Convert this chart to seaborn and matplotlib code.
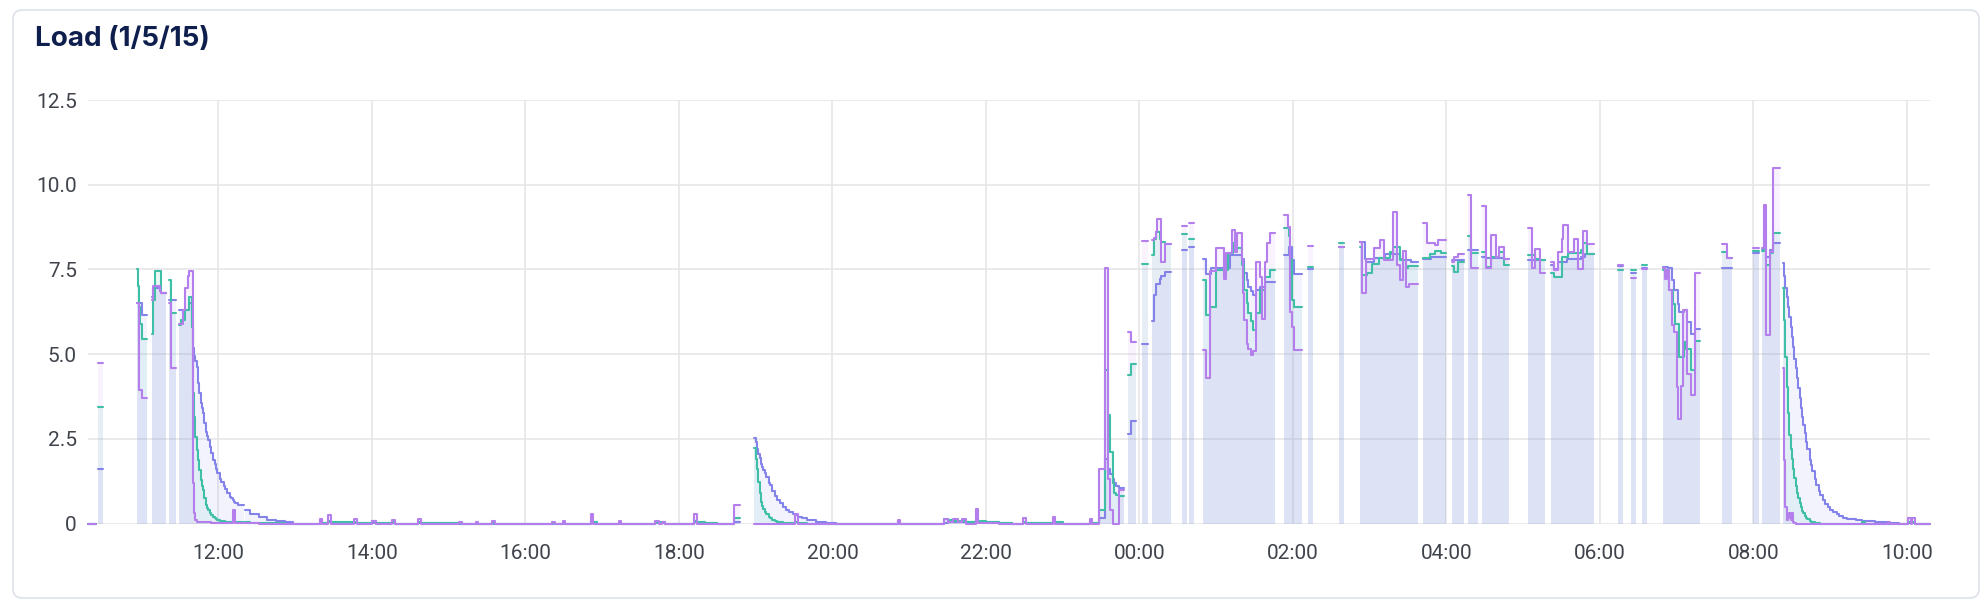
import numpy as np
import pandas as pd
import matplotlib
matplotlib.use("Agg")
import matplotlib.pyplot as plt
import matplotlib.dates as mdates
from matplotlib.patches import FancyBboxPatch
from matplotlib.transforms import IdentityTransform
import seaborn as sns

nan = np.nan

# sample times (value holds until the next time, nan = no data)
times = [
    "10:18", "10:24", "10:26", "10:30", "10:56", "10:57", "10:58", "10:59", "11:00", "11:04",
    "11:08", "11:09", "11:10", "11:14", "11:15", "11:19", "11:21", "11:23", "11:27",
    "11:29", "11:31", "11:32", "11:34", "11:36", "11:37", "11:39", "11:40", "11:41", "11:42",
    "11:43", "11:44", "11:45", "11:46", "11:47", "11:48", "11:49", "11:50", "11:51", "11:52",
    "11:53", "11:54", "11:56", "11:57", "11:58", "11:59", "12:01", "12:02", "12:04", "12:05",
    "12:07", "12:09", "12:10", "12:11", "12:12", "12:13", "12:15", "12:20",
    "12:21", "12:25", "12:32", "12:38", "12:45", "12:52", "12:58", "13:19", "13:21", "13:26",
    "13:28", "13:46", "13:48", "14:00", "14:03", "14:16", "14:18", "14:36", "14:38", "15:08",
    "15:10", "15:21", "15:23", "15:34", "15:36", "16:21", "16:23", "16:29", "16:31", "16:51",
    "16:53", "16:56", "17:13", "17:15", "17:41", "17:44", "17:47", "17:49", "18:12", "18:14",
    "18:20", "18:30", "18:43", "18:48",
    "18:59", "19:00", "19:01", "19:02", "19:03", "19:04", "19:05", "19:06", "19:07", "19:08",
    "19:10", "19:11", "19:13", "19:15", "19:17", "19:19", "19:21", "19:24", "19:26", "19:29",
    "19:31", "19:33", "19:36", "19:40", "19:47", "19:55", "20:03",
    "20:51", "20:53", "21:27", "21:30", "21:34", "21:38", "21:41", "21:44", "21:52", "21:54",
    "22:00", "22:10", "22:20", "22:29", "22:31", "22:52", "22:54", "23:00", "23:21", "23:23",
    "23:28", "23:33", "23:35", "23:37", "23:39", "23:40", "23:42", "23:44", "23:48",
    "23:51", "23:53", "23:57", "00:02", "00:07", "00:10", "00:11", "00:13", "00:14", "00:16",
    "00:17", "00:20", "00:25", "00:33", "00:37", "00:39", "00:43", "00:50", "00:52", "00:55",
    "00:56", "01:00", "01:06", "01:08", "01:09", "01:11", "01:12", "01:13", "01:15", "01:16",
    "01:20", "01:21", "01:22", "01:24", "01:25", "01:27", "01:29", "01:31", "01:34", "01:36",
    "01:38", "01:40", "01:42", "01:46",
    "01:53", "01:56", "01:57", "01:58", "01:59", "02:01", "02:07", "02:12", "02:16", "02:36",
    "02:40", "02:52", "02:54", "02:56", "02:57", "02:58", "03:02", "03:03", "03:07", "03:08",
    "03:11", "03:12", "03:16", "03:18", "03:21", "03:24", "03:26", "03:28", "03:30", "03:31",
    "03:32", "03:38", "03:42", "03:45", "03:47", "03:48", "03:51", "03:53", "03:56", "04:00",
    "04:04", "04:06", "04:09", "04:14", "04:17", "04:19", "04:25", "04:28", "04:31", "04:35",
    "04:39", "04:41", "04:45", "04:49", "05:04", "05:07", "05:09", "05:13", "05:17", "05:22",
    "05:24", "05:27", "05:30", "05:31", "05:34", "05:35", "05:40", "05:43", "05:45", "05:47",
    "05:48", "05:50", "05:55", "06:14", "06:18", "06:24", "06:28", "06:33", "06:37",
    "06:49", "06:51", "06:52", "06:53", "06:54", "06:56", "06:57", "06:58", "06:59", "07:00",
    "07:01", "07:02", "07:03", "07:05", "07:06", "07:07", "07:08", "07:11", "07:14", "07:18",
    "07:35", "07:39", "07:43", "08:00", "08:04", "08:07", "08:08", "08:10", "08:13", "08:15",
    "08:21",
    "08:23", "08:24", "08:25", "08:26", "08:27", "08:28", "08:29", "08:30", "08:31", "08:32",
    "08:33", "08:34", "08:35", "08:36", "08:37", "08:38", "08:39", "08:40", "08:41", "08:42",
    "08:44", "08:45", "08:46", "08:48", "08:49", "08:51", "08:52", "08:54", "08:56", "08:58",
    "09:00", "09:02", "09:05", "09:07", "09:10", "09:13", "09:20", "09:25", "09:27", "09:35",
    "09:45", "09:47", "09:54", "10:01", "10:03", "10:04", "10:06", "10:18",
]

load_1 = [
    0, nan, 4.75, nan, 6.5, 6.5, 3.95, 3.95, 3.7, nan,
    6.6, 7.0, 7.0, 6.85, 6.8, nan, 6.5, 4.6, nan,
    5.9, 5.9, 6.3, 6.95, 7.3, 7.45, 7.45, 1.2, 0.3, 0.1,
    0.05, 0.05, 0.05, 0.05, 0.05, 0.04, 0.04, 0.03, 0.03, 0.03,
    0.03, 0.02, 0.02, 0.02, 0.02, 0.02, 0.02, 0.02, 0.02, 0.02,
    0.02, 0.02, 0.02, 0.39, 0.39, 0.02, 0.02, nan,
    0.02, 0.02, 0, 0, 0, 0, 0, 0.12, 0, 0.24,
    0, 0.12, 0, 0.08, 0, 0.1, 0, 0.12, 0, 0.05,
    0, 0.05, 0, 0.06, 0, 0.05, 0, 0.07, 0, 0.29,
    0, 0, 0.06, 0, 0.07, 0, 0.05, 0, 0.27, 0,
    0, 0, 0.55, nan,
    0, 0, 0, 0, 0, 0, 0, 0, 0, 0,
    0, 0, 0, 0, 0, 0, 0, 0, 0, 0,
    0.27, 0, 0, 0, 0, 0, 0,
    0.1, 0, 0.12, 0.05, 0.12, 0.05, 0.12, 0, 0.42, 0.02,
    0.02, 0, 0, 0.15, 0, 0.2, 0, 0, 0.12, 0,
    1.62, 7.55, 1.3, 0.4, 0, 0, 0, 0.98, nan,
    5.65, 5.36, nan, 8.34, nan, 8.36, 8.44, 8.6, 9.0, 9.0,
    7.72, 8.26, nan, 8.79, nan, 8.87, nan, 5.11, 4.28, 7.46,
    7.46, 8.12, 7.23, 7.97, 7.97, 7.97, 8.66, 8.66, 8.0, 8.58,
    7.77, 6.79, 6.0, 5.3, 5.16, 4.96, 5.1, 7.72, 7.28, 6.05,
    7.72, 8.27, 8.58, nan,
    9.1, 8.75, 8.75, 6.24, 5.8, 5.11, nan, 8.2, nan, 8.15,
    nan, 8.31, 6.79, 6.79, 7.82, 7.82, 7.82, 8.12, 8.12, 8.38,
    7.77, 7.77, 7.77, 9.2, 7.62, 7.18, 8.05, 6.98, 6.98, 7.08,
    7.08, nan, 8.87, 8.27, 8.27, 8.27, 8.22, 8.37, 8.37, nan,
    7.72, 7.88, 7.94, nan, 9.69, 7.53, nan, 9.37, 7.53, 8.51,
    7.87, 8.16, 7.82, nan, 8.71, 7.53, 8.1, 7.38, nan, 7.73,
    7.48, 8.02, 8.4, 8.82, 8.82, 8.02, 8.41, 7.5, 7.5, 8.62,
    8.62, 8.24, nan, 7.64, nan, 7.25, nan, 7.5, nan,
    7.53, 7.23, 7.48, 7.48, 6.89, 5.85, 5.85, 5.65, 5.65, 4.03,
    3.09, 3.09, 4.05, 6.31, 6.31, 6.31, 4.42, 3.78, 7.4, nan,
    8.24, 7.84, nan, 8.14, nan, 8.14, 9.4, 5.56, 8.0, 10.5,
    nan,
    4.58, 1.87, 0.49, 0.1, 0.15, 0.3, 0.1, 0.3, 0.05, 0.02,
    0, 0, 0, 0, 0, 0, 0, 0, 0, 0,
    0, 0, 0, 0, 0, 0, 0, 0, 0, 0,
    0, 0, 0, 0, 0, 0, 0, 0, 0, 0,
    0.05, 0, 0, 0.15, 0, 0.15, 0, nan,
]

load_5 = [
    0, nan, 3.45, nan, 7.5, 7.0, 6.4, 5.9, 5.45, nan,
    5.6, 6.6, 7.45, 7.45, 6.8, nan, 7.2, 6.2, nan,
    5.85, 6.0, 6.0, 6.3, 6.3, 6.69, 5.8, 3.84, 3.15, 2.56,
    2.17, 1.87, 1.58, 1.28, 1.1, 0.98, 0.74, 0.54, 0.45, 0.39,
    0.3, 0.24, 0.18, 0.15, 0.12, 0.1, 0.08, 0.07, 0.06, 0.05,
    0.05, 0.05, 0.05, 0.1, 0.1, 0.05, 0.04, nan,
    0.03, 0.02, 0.02, 0.01, 0.01, 0, 0, 0.05, 0.02, 0.08,
    0.03, 0.05, 0.02, 0.08, 0.02, 0.03, 0, 0.05, 0.02, 0.02,
    0, 0.02, 0, 0.02, 0, 0.02, 0, 0.02, 0, 0.1,
    0.04, 0, 0.02, 0, 0.05, 0.03, 0.03, 0, 0.08, 0.05,
    0.02, 0, 0.15, nan,
    2.24, 1.9, 1.62, 1.23, 0.89, 0.64, 0.52, 0.42, 0.33, 0.27,
    0.18, 0.15, 0.1, 0.07, 0.05, 0.03, 0.02, 0.01, 0.01, 0.01,
    0.04, 0.02, 0.01, 0, 0, 0, 0,
    0.03, 0, 0.12, 0.1, 0.08, 0.06, 0.08, 0.04, 0.1, 0.08,
    0.04, 0.02, 0, 0.05, 0.02, 0.08, 0.03, 0, 0.04, 0.01,
    0.4, 4.52, 3.2, 2.1, 1.2, 0.91, 0.85, 0.8, nan,
    4.38, 4.72, nan, 7.67, nan, 7.92, 8.41, 8.6, 8.6, 8.4,
    8.31, 8.26, nan, 8.54, nan, 8.41, nan, 7.18, 6.15, 6.4,
    6.4, 7.48, 7.48, 7.48, 7.97, 7.97, 7.97, 8.27, 8.12, 8.12,
    7.62, 7.62, 6.89, 6.5, 6.2, 5.99, 5.7, 6.2, 6.89, 6.89,
    7.28, 7.28, 7.48, nan,
    8.72, 8.72, 8.5, 7.77, 6.6, 6.4, nan, 7.56, nan, 8.27,
    nan, 8.15, 7.33, 7.33, 7.33, 7.38, 7.67, 7.67, 7.85, 7.85,
    7.85, 7.85, 8.02, 8.15, 8.15, 7.77, 7.77, 7.53, 7.6, 7.6,
    7.6, nan, 7.85, 7.85, 7.95, 7.95, 8.04, 8.04, 7.99, nan,
    7.59, 7.43, 7.72, nan, 8.48, 7.97, nan, 8.02, 7.58, 7.87,
    7.87, 8.02, 7.64, nan, 7.92, 7.92, 7.82, 7.77, nan, 7.39,
    7.27, 7.27, 7.87, 7.87, 7.87, 7.99, 7.99, 7.99, 8.07, 8.27,
    8.27, 7.95, nan, 7.49, nan, 7.49, nan, 7.64, nan,
    7.48, 7.48, 7.48, 7.33, 6.89, 6.89, 6.47, 6.47, 5.88, 5.88,
    5.88, 4.91, 4.91, 4.91, 5.35, 5.15, 5.15, 4.52, 5.4, nan,
    8.0, 7.84, nan, 8.04, nan, 8.04, 8.66, 7.62, 7.97, 8.58,
    nan,
    6.94, 6.01, 4.92, 4.04, 3.25, 2.6, 2.2, 1.9, 1.62, 1.35,
    1.1, 0.9, 0.74, 0.6, 0.48, 0.38, 0.3, 0.22, 0.17, 0.13,
    0.07, 0.05, 0.04, 0.02, 0.02, 0.01, 0, 0, 0, 0,
    0, 0, 0, 0, 0, 0, 0, 0.05, 0, 0,
    0, 0, 0, 0.05, 0.02, 0.05, 0, nan,
]

load_15 = [
    0, nan, 1.62, nan, 6.5, 6.5, 6.5, 6.5, 6.15, nan,
    6.7, 6.95, 6.95, 6.85, 6.8, nan, 6.6, 6.6, nan,
    6.3, 6.3, 6.3, 6.3, 6.3, 6.5, 5.81, 5.17, 4.93, 4.8,
    4.63, 4.14, 3.84, 3.55, 3.4, 3.25, 2.96, 2.71, 2.58, 2.46,
    2.27, 2.07, 1.87, 1.77, 1.62, 1.48, 1.32, 1.23, 1.1, 1.03,
    0.89, 0.79, 0.74, 0.69, 0.64, 0.6, 0.56, nan,
    0.39, 0.29, 0.18, 0.11, 0.06, 0.03, 0, 0.02, 0.01, 0.03,
    0.01, 0.02, 0.01, 0.02, 0.01, 0.01, 0, 0.02, 0.01, 0,
    0, 0, 0, 0, 0, 0, 0, 0, 0, 0.03,
    0.01, 0, 0, 0, 0.01, 0.01, 0.01, 0, 0.03, 0.01,
    0.01, 0, 0.03, nan,
    2.53, 2.4, 2.2, 2.05, 1.92, 1.77, 1.68, 1.58, 1.48, 1.38,
    1.2, 1.13, 0.95, 0.82, 0.7, 0.6, 0.49, 0.39, 0.33, 0.27,
    0.25, 0.2, 0.15, 0.1, 0.05, 0.02, 0,
    0.01, 0, 0.02, 0.03, 0.03, 0.03, 0.03, 0.03, 0.04, 0.04,
    0.03, 0.01, 0, 0.02, 0.01, 0.02, 0.01, 0, 0.01, 0.01,
    0.15, 1.9, 1.6, 1.45, 1.3, 1.2, 1.1, 1.05, nan,
    2.65, 3.04, nan, 5.29, nan, 5.99, 6.74, 7.08, 7.08, 7.23,
    7.3, 7.43, nan, 8.07, nan, 8.17, nan, 7.82, 7.36, 7.36,
    7.53, 7.53, 7.53, 7.53, 7.53, 7.92, 7.92, 7.92, 7.92, 7.92,
    7.82, 7.82, 7.38, 7.2, 6.98, 6.85, 6.74, 6.89, 6.98, 6.98,
    7.13, 7.13, 7.13, nan,
    7.92, 7.92, 8.15, 8.15, 7.77, 7.35, nan, 7.5, nan, 8.15,
    nan, 8.31, 8.31, 7.82, 7.72, 7.72, 7.72, 7.85, 7.85, 7.85,
    7.85, 7.95, 7.95, 7.95, 7.95, 7.82, 7.77, 7.77, 7.77, 7.77,
    7.72, nan, 7.82, 7.82, 7.82, 7.88, 7.88, 7.88, 7.88, nan,
    7.77, 7.77, 7.77, nan, 8.07, 8.07, nan, 7.87, 7.85, 7.85,
    7.85, 7.85, 7.8, nan, 7.77, 7.77, 7.77, 7.77, nan, 7.62,
    7.5, 7.72, 7.72, 7.72, 7.8, 7.8, 7.8, 7.8, 7.88, 7.88,
    7.95, 7.95, nan, 7.6, nan, 7.4, nan, 7.55, nan,
    7.58, 7.58, 7.58, 7.53, 7.53, 7.18, 7.18, 6.89, 6.89, 6.89,
    6.47, 6.24, 6.24, 6.24, 6.31, 6.31, 5.96, 5.6, 5.73, nan,
    7.53, 7.53, nan, 7.99, nan, 8.1, 8.1, 7.87, 8.07, 8.27,
    nan,
    7.68, 7.3, 6.95, 6.7, 6.4, 6.1, 5.8, 5.5, 5.2, 4.85,
    4.6, 4.3, 4.0, 3.7, 3.4, 3.15, 2.9, 2.66, 2.42, 2.2,
    1.87, 1.72, 1.55, 1.3, 1.15, 0.95, 0.85, 0.7, 0.58, 0.48,
    0.4, 0.34, 0.27, 0.21, 0.17, 0.14, 0.09, 0.07, 0.06, 0.03,
    0.02, 0.01, 0, 0.01, 0.01, 0.01, 0, nan,
]

y_ticks = [0, 2.5, 5, 7.5, 10, 12.5]
y_labels = ["0", "2.5", "5.0", "7.5", "10.0", "12.5"]

series_colors = {"15 min": "#8383ea", "5 min": "#3ebfa6", "1 min": "#b47fec"}

assert len(times) == len(load_1) == len(load_5) == len(load_15)


def to_datetimes(labels):
    out, day = [], 0
    for s in labels:
        ts = pd.Timestamp("2024-05-01 " + s) + pd.Timedelta(days=day)
        if out and ts < out[-1]:
            day += 1
            ts += pd.Timedelta(days=1)
        out.append(ts)
    return out


def step_segments(x, y):
    # turn "value holds until next sample" into drawable step polylines
    segs, cur = [], []
    for i in range(len(x) - 1):
        if np.isnan(y[i]):
            if cur:
                segs.append(cur)
                cur = []
            continue
        cur += [(x[i], y[i]), (x[i + 1], y[i])]
    if cur:
        segs.append(cur)
    return segs


stamps = to_datetimes(times)
values = {"15 min": load_15, "5 min": load_5, "1 min": load_1}

rows = []
for name, vals in values.items():
    for k, seg in enumerate(step_segments(stamps, np.array(vals, dtype=float))):
        for xx, yy in seg:
            rows.append((xx, yy, name, f"{name}-{k}"))
df = pd.DataFrame(rows, columns=["time", "load", "series", "seg"])

sns.set_theme(style="whitegrid")
plt.rcParams["font.family"] = ["Roboto", "DejaVu Sans"]

fig = plt.figure(figsize=(19.88, 6.12), dpi=100)
card = FancyBboxPatch((13, 14), 1966, 588, boxstyle="round,pad=0,rounding_size=9",
                      transform=IdentityTransform(), facecolor="white",
                      edgecolor="#dde2ea", linewidth=1.2, zorder=-5)
fig.add_artist(card)

ax = fig.add_axes([0.04427, 0.1446, 0.92656, 0.6920])
ax.set_facecolor("none")

for name in ["15 min", "5 min", "1 min"]:
    sub = df[df["series"] == name]
    for _, g in sub.groupby("seg"):
        ax.fill_between(g["time"].to_numpy(), 0, g["load"].to_numpy(),
                        color=series_colors[name], alpha=0.09, linewidth=0)

sns.lineplot(data=df, x="time", y="load", hue="series", units="seg", estimator=None,
             sort=False, hue_order=["15 min", "5 min", "1 min"], palette=series_colors,
             linewidth=1.5, legend=False, ax=ax)
for line in ax.lines:
    line.set_clip_on(False)

ax.set_xlim(pd.Timestamp("2024-05-01 10:18"), pd.Timestamp("2024-05-02 10:18"))
ax.set_ylim(0, 12.5)
ax.set_yticks(y_ticks)
ax.set_yticklabels(y_labels)
ax.xaxis.set_major_locator(mdates.HourLocator(byhour=range(0, 24, 2)))
ax.xaxis.set_major_formatter(mdates.DateFormatter("%H:%M"))
ax.set_xlabel("")
ax.set_ylabel("")
ax.grid(True, color="#e4e4e7", linewidth=1.1)
ax.set_axisbelow(True)
for sp in ax.spines.values():
    sp.set_visible(False)
ax.tick_params(axis="both", length=0, labelsize=15, labelcolor="#3f434b")
ax.tick_params(axis="y", pad=8)
ax.tick_params(axis="x", pad=15)

fig.text(35 / 1988, 1 - 46.5 / 612, "Load (1/5/15)", fontsize=20, fontweight="bold",
         color="#0e1f4e", family=["Inter", "DejaVu Sans"], va="baseline")

fig.savefig("out.png", dpi=100, facecolor="white")
